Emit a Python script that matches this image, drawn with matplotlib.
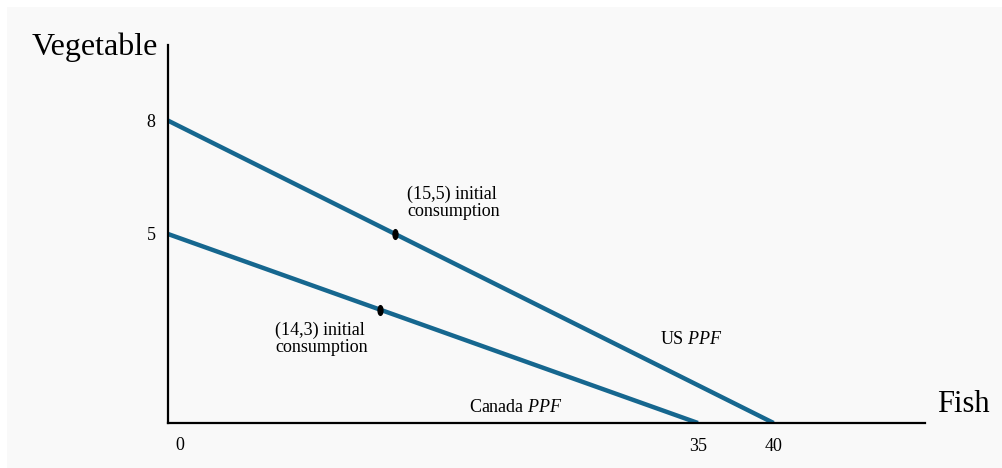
import matplotlib.pyplot as plt
import matplotlib.patches as patches
from matplotlib.path import Path
from matplotlib.transforms import Affine2D

plt.rcParams['font.family'] = ['Liberation Serif', 'DejaVu Serif']
plt.rcParams['mathtext.fontset'] = 'custom'
plt.rcParams['mathtext.rm'] = 'Liberation Serif'
plt.rcParams['mathtext.it'] = 'Liberation Serif:italic'

# production possibility frontiers (fish, vegetable)
us_fish = [0, 40]
us_veg = [8, 0]
canada_fish = [0, 35]
canada_veg = [5, 0]

# initial consumption points
us_point = (15, 5)
canada_point = (14, 3)

x_ticks = [35, 40]
y_ticks = [8, 5]

line_color = '#16678f'

fig = plt.figure(figsize=(10.03, 4.68), dpi=100)
fig.patches.append(patches.Rectangle((7 / 1003, 0), 1, 1 - 7 / 468, transform=fig.transFigure,
                                     facecolor='#f9f9f9', edgecolor='none', zorder=-10))
ax = fig.add_axes([168 / 1003, 45 / 468, (925 - 168) / 1003, (423 - 45) / 468])
ax.set_facecolor('none')

ax.plot(us_fish, us_veg, color=line_color, lw=3.2, solid_capstyle='butt')
ax.plot(canada_fish, canada_veg, color=line_color, lw=3.2, solid_capstyle='butt')

ellipse = Path.unit_circle().transformed(Affine2D().scale(0.5, 1.0))
ax.plot(*us_point, marker=ellipse, ms=7, color='black', mec='black')
ax.plot(*canada_point, marker=ellipse, ms=7, color='black', mec='black')

ax.set_xlim(0, 50)
ax.set_ylim(0, 10)
for s in ['top', 'right']:
    ax.spines[s].set_visible(False)
for s in ['left', 'bottom']:
    ax.spines[s].set_linewidth(1.6)
    ax.spines[s].set_color('black')

ax.set_xticks(x_ticks)
ax.set_yticks(y_ticks)
ax.tick_params(axis='both', length=0, labelsize=13)
ax.tick_params(axis='x', pad=11)
ax.tick_params(axis='y', pad=9)

ax.annotate('0', xy=(0, 0), xytext=(12, -23), textcoords='offset pixels',
            ha='center', va='center', fontsize=13)
ax.annotate('Vegetable', xy=(0, 10), xytext=(-10, -2), textcoords='offset pixels',
            ha='right', va='center', fontsize=23)
ax.annotate('Fish', xy=(50, 0), xytext=(12, 18), textcoords='offset pixels',
            ha='left', va='center', fontsize=22)

ax.annotate('(15,5) initial\nconsumption', xy=us_point, xytext=(12, 31), textcoords='offset pixels',
            ha='left', va='center', fontsize=13, linespacing=1.0)
ax.annotate('(14,3) initial\nconsumption', xy=canada_point, xytext=(-105, -29), textcoords='offset pixels',
            ha='left', va='center', fontsize=13, linespacing=1.0)
ax.text(32.5, 2.2, 'US $\\it{PPF}$', fontsize=13, ha='left', va='center')
ax.text(19.9, 0.4, 'Canada $\\it{PPF}$', fontsize=13, ha='left', va='center')

fig.savefig('out.png', dpi=100)
